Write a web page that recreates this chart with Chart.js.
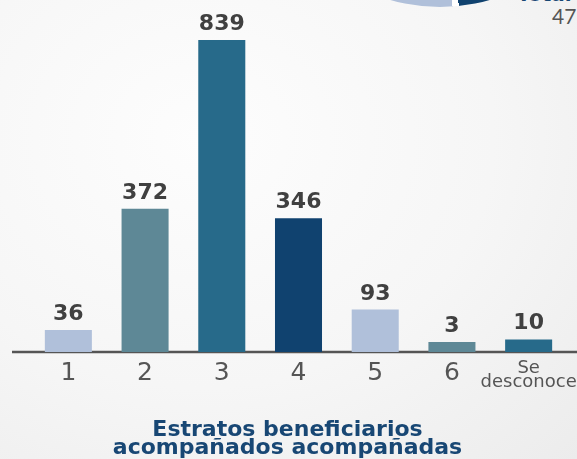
<!DOCTYPE html>
<html>
<head>
<meta charset="utf-8">
<script src="https://cdn.jsdelivr.net/npm/chart.js@4"></script>
<style>
  html, body { margin: 0; padding: 0; }
  body {
    width: 577px; height: 459px; overflow: hidden; position: relative;
    background: radial-gradient(ellipse at 35% 30%, #fdfdfd 0%, #f6f6f6 55%, #ececec 100%);
  }
  #wrap { position: absolute; left: 0; top: 0; width: 577px; height: 459px; }
  .donut { position: absolute; left: 260px; top: -353px; width: 360px; height: 360px; border-radius: 50%;
    background: conic-gradient(#ffffff 0deg 90deg, #10426f 90deg 174deg, #ffffff 174deg 176deg, #b0c0da 176deg 360deg); }
  .total { position: absolute; left: 517px; top: -18px; font: bold 20px "DejaVu Sans", sans-serif; color: #184774; }
  .num { position: absolute; left: 552px; top: 3px; font: 400 21px "Lato", sans-serif; color: #555; }
</style>
</head>
<body>
<div class="donut"></div>
<div class="total">Total</div>
<div class="num">47</div>
<div id="wrap"><canvas id="myChart"></canvas></div>
<script>
// Categories and values
const labels = ['1', '2', '3', '4', '5', '6', ['Se', 'desconoce']];
const values = [36, 372, 839, 346, 93, 3, 10];
const barColors = ['#b0c0da', '#5e8896', '#276a8a', '#10426f', '#b0c0da', '#5e8896', '#276a8a'];

const canvas = document.getElementById('myChart');
const ctx = canvas.getContext('2d');

// Draws the baseline across the whole width and the value labels
const extras = {
  id: 'extras',
  beforeDatasetsDraw(chart) {
    const c = chart.ctx;
    const y = chart.chartArea.bottom;
    c.save();
    c.strokeStyle = '#555555';
    c.lineWidth = 2.5;
    c.beginPath();
    c.moveTo(12, y);
    c.lineTo(chart.width, y);
    c.stroke();
    c.restore();
  },
  afterDatasetsDraw(chart) {
    const c = chart.ctx;
    const meta = chart.getDatasetMeta(0);
    c.save();
    c.fillStyle = '#404040';
    c.font = 'bold 22px "DejaVu Sans", sans-serif';
    c.textAlign = 'center';
    c.textBaseline = 'alphabetic';
    meta.data.forEach(function(bar, i) {
      c.fillText(values[i], bar.x, bar.y - 10);
    });
    c.restore();
  }
};

var myChart = new Chart(ctx, {
  type: 'bar',
  data: {
    labels: labels,
    datasets: [{
      data: values,
      base: -25,
      backgroundColor: barColors,
      borderWidth: 0,
      barPercentage: 0.613,
      categoryPercentage: 1
    }]
  },
  options: {
    responsive: true,
    maintainAspectRatio: false,
    animation: false,
    layout: { padding: { left: 8, right: 10, top: 0, bottom: 2 } },
    plugins: {
      legend: { display: false },
      tooltip: { enabled: false },
      title: {
        display: true,
        position: 'bottom',
        text: ['Estratos beneficiarios', 'acompañados acompañadas'],
        color: '#184774',
        font: { family: 'DejaVu Sans', size: 22, weight: 'bold', lineHeight: 0.82 },
        padding: { top: 22, bottom: 0 }
      }
    },
    scales: {
      x: {
        grid: { display: false, drawTicks: false },
        border: { display: false },
        afterFit: function(scale) { scale.paddingLeft = 0; scale.paddingRight = 0; },
        ticks: {
          color: '#555555',
          padding: 9,
          maxRotation: 0,
          minRotation: 0,
          autoSkip: false,
          font: function(c) {
            return c.index === 6
              ? { family: 'DejaVu Sans', size: 18, lineHeight: 0.8 }
              : { family: 'DejaVu Sans', size: 25, lineHeight: 1 };
          }
        }
      },
      y: {
        display: true,
        min: -25,
        max: 950,
        grid: { display: false },
        border: { display: false },
        ticks: { display: false },
        afterFit: function(scale) { scale.width = 22; }
      }
    }
  },
  plugins: [extras]
});
</script>
</body>
</html>
